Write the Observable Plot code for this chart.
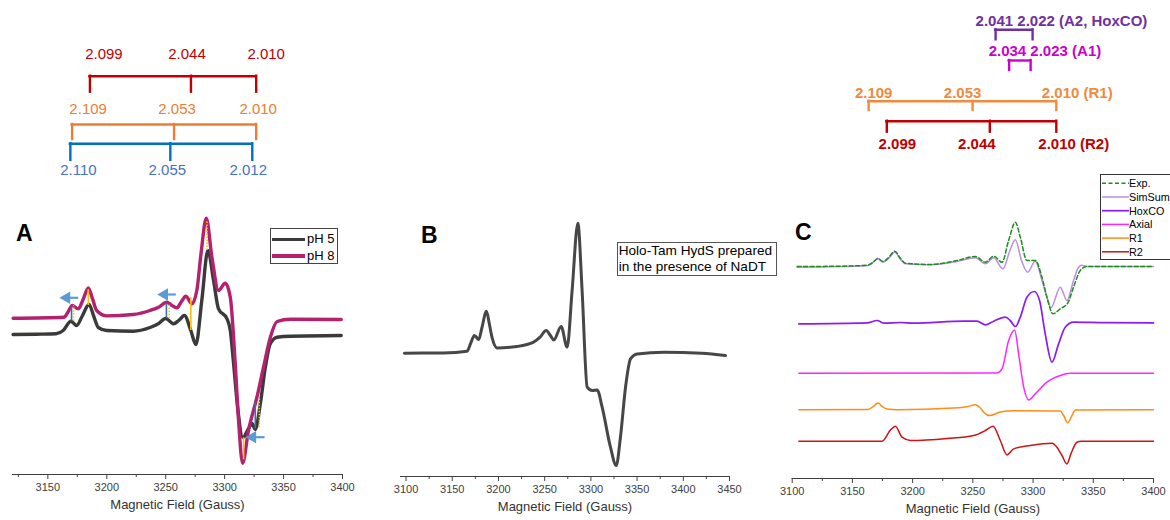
<!DOCTYPE html>
<html><head><meta charset="utf-8">
<script src="https://cdn.jsdelivr.net/npm/d3@7"></script>
<script src="https://cdn.jsdelivr.net/npm/@observablehq/plot@0.6"></script>
<style>
html,body{margin:0;padding:0;background:#fff;}
body{width:1170px;height:520px;overflow:hidden;position:relative;font-family:"Liberation Sans",Arial,Helvetica,sans-serif;}
.letter{position:absolute;font-weight:bold;font-size:23px;line-height:23px;color:#000;}
.box{position:absolute;border:1px solid #444;background:#fff;box-sizing:border-box;}
</style></head><body>
<script>
// ---------------- DATA ----------------
// Panel A: EPR spectra, [field (G), intensity above own baseline]
const pH5 = [[3120.5,0],[3140,0.3],[3157,0.7],[3163,4],[3169.6,13.3],[3174.4,9],[3179,18],[3184.9,30],[3189,18],[3192.8,7],[3200,4],[3222.5,3.3],[3236.7,7],[3244,11],[3250,16],[3256.6,10.7],[3261,14],[3265.9,19],[3271.3,4],[3275.6,-10],[3280.7,35],[3285.8,84],[3290.6,54],[3294.8,25.7],[3302,15.7],[3304.8,4],[3307.6,-29],[3311,-72.7],[3315.5,-103],[3320.3,-94],[3323.2,-89],[3326,-95],[3330.3,-69],[3334.5,-33],[3338.8,-9],[3344.5,-2.7],[3355.8,-1.7],[3398.9,-1]];
const pH8 = [[3120.5,0],[3163.7,1],[3167,6],[3170.7,12.7],[3175.8,9.3],[3180,19],[3184.3,30.3],[3188,19],[3191.4,7.7],[3200,2.3],[3222.5,3.7],[3236.7,7.7],[3244,11],[3250.9,16],[3255,13],[3259.4,10.3],[3263,16],[3267.1,22],[3272.2,14.3],[3276.4,27.7],[3280,65],[3284.4,100],[3289.2,61],[3294.8,27.7],[3300.5,35],[3304.8,21],[3309,-45.7],[3311.8,-102],[3315.2,-145],[3320.3,-112],[3327.4,-79],[3333,-49],[3338.8,-19],[3344.5,-3.3],[3355.8,-1],[3398.9,-1.3]];
const seriesA = ["pH 5", "pH 8"];
const offsetsA = [0, 16.3];
// markers drawn on panel A (same intensity units as the pH 5 trace): field, low, high, kind
const markersA = [
  [3170.1,13.3,27.3,"blue"],[3171.8,13.3,29,"dotted"],[3184.3,29,44.7,"yellow"],
  [3250.6,16.3,31.3,"blue"],[3252.9,15.7,30,"dotted"],[3271.3,4,36.7,"yellow"],
  [3285,84,113.3,"dotted"],[3316.1,-125.3,-103.3,"yellow"],
  [3326,-94.3,-67.7,"blue"],[3329.4,-93.3,-64.3,"dotted"]
];
// arrows: head field, tail field, level
const arrowsA = [[3165.9,3175.8,36.7],[3248.9,3258.6,40],[3323.7,3333.9,-102.7]];

// Panel B
const holoNaDT = [[3098.2,0],[3140,0.3],[3166,2],[3170,10],[3174,17.7],[3178.7,13.7],[3182,25],[3187,42],[3190,30],[3193,16],[3198.5,5.3],[3220,6.7],[3238,11],[3245,16],[3251.6,22.7],[3256,18],[3259.9,13.3],[3267.8,26.7],[3274.3,6],[3279.7,62.7],[3285.9,130],[3290.5,62.7],[3296,-34],[3301.4,-37.3],[3306.8,-36.7],[3312.2,-54],[3321.2,-94],[3327.4,-112.3],[3332,-84],[3337.5,-34],[3342.9,-5.7],[3350,-0.7],[3379,1],[3420,0],[3445.7,-2.3]];

// Panel C
const expC = [[3104.1,0],[3140,0.3],[3162.2,1.3],[3167,4],[3171,7.7],[3175.5,5],[3180,9],[3185.2,15.3],[3190,8],[3194,3.3],[3214.7,2],[3236.9,6],[3252,10],[3260.4,4.3],[3267.3,10.3],[3274.2,4.3],[3279.7,26],[3285.3,44.3],[3289.4,29.3],[3294.9,6],[3301.8,6],[3307.4,-10.7],[3311.5,-30.7],[3316.5,-47.3],[3322.6,-42.3],[3328.7,-36.7],[3333.6,-20.7],[3339.2,-4],[3344.7,0],[3400,0]];
const simSum = [[3104.1,-0.7],[3162.2,0.7],[3167,4],[3171,8.3],[3175.5,4.3],[3180,8],[3185.2,14.3],[3190,7],[3194,2.7],[3214.7,1.7],[3236.9,5],[3252,8.7],[3260.4,2.7],[3267.3,8.7],[3275,-2.3],[3280.8,16],[3285.3,26.7],[3290.4,6],[3295.5,-5.7],[3301.8,5.3],[3307.4,-14],[3311.5,-30.7],[3314.8,-41.3],[3322.6,-20.7],[3328.1,-34],[3333.6,-14],[3337.8,-0.7],[3340.5,1.3],[3345,0],[3400,0]];
const hoxCO = [[3105.5,-0.7],[3162.2,0.3],[3170.5,2.7],[3176,0],[3190,0.7],[3201,0],[3242.4,2],[3253.5,2],[3260.4,-1.7],[3267.3,2],[3277,6],[3281,2.7],[3285.3,-3.3],[3289.4,6],[3294.9,26],[3301,31.7],[3305.4,22.7],[3310.1,-10.7],[3315.7,-39],[3321.2,-20.7],[3326.7,-4],[3333.6,1],[3360,0.5],[3400,0.3]];
const axial = [[3105.5,0],[3270,0.3],[3274.2,4.3],[3279.7,32.7],[3284.7,43.3],[3288,19.3],[3292.2,-14],[3296.3,-26.7],[3301.8,-20.7],[3311.5,-9],[3322.6,-2.3],[3330.9,0],[3400,0]];
const r1 = [[3105.5,0],[3162.2,0.3],[3167,3],[3171.3,6.7],[3175,3],[3178.8,0.7],[3187,0],[3234.1,1.7],[3245,3],[3252.1,5],[3256,2],[3259,-2.3],[3263.7,-5.7],[3272.8,-2.3],[3284,-1],[3322.6,-1.3],[3325.4,-5.7],[3328.7,-13],[3332.3,-5.7],[3335,-0.3],[3400,0]];
const r2 = [[3105.5,0],[3174.7,0],[3181.6,11.3],[3185.7,15],[3191.2,4],[3198.2,0.7],[3228.6,2.7],[3250.7,5.7],[3260.4,10.7],[3266.7,15],[3272.8,0.7],[3278.3,-13.7],[3283.9,-7.7],[3297.7,-4.3],[3315.7,-2],[3319.8,-6],[3324,-14.3],[3328.1,-22.7],[3331.4,-12.7],[3336.4,-1],[3340,0],[3400,0]];
const seriesC = ["Exp.", "SimSum", "HoxCO", "Axial", "R1", "R2"];
const offsetsC = [212, 212, 155.3, 105.3, 68.7, 37.3];

// g-value stick diagrams
const gLeftR2 = [2.099, 2.044, 2.010];
const gLeftR1 = [2.109, 2.053, 2.010];
const gLeftB  = [2.110, 2.055, 2.012];
const gRightA2 = [2.041, 2.022];
const gRightA1 = [2.034, 2.023];
const gRightR1 = [2.109, 2.053, 2.010];
const gRightR2 = [2.099, 2.044, 2.010];
const mwFreqGHz = {left: 9.359, right: 9.338};

// ticks
const majorA = [3150,3200,3250,3300,3350,3400], minorA = [3125,3175,3225,3275,3325,3375];
const majorB = [3100,3150,3200,3250,3300,3350,3400,3450], minorB = [3125,3175,3225,3275,3325,3375,3425];
const majorC = [3100,3150,3200,3250,3300,3350,3400], minorC = [3125,3175,3225,3275,3325,3375];

// ---------------- DRAWING ----------------
const FONT = '"Liberation Sans", Arial, Helvetica, sans-serif';
const K = 714.4773; // B(G) = K * nu(GHz) / g
function put(node, left, top) { node.style.position = "absolute"; node.style.left = left + "px"; node.style.top = top + "px"; document.body.appendChild(node); return node; }
const rows = (arr, off, s) => arr.map(([B, v]) => ({B, v: v + off, s}));

function panel({width, height, mL, mR, mB, xDomain, yDomain, majors, minors, marks}) {
  return Plot.plot({
    width, height, marginLeft: mL, marginRight: mR, marginTop: 0, marginBottom: mB,
    style: {fontFamily: FONT, fontSize: "11px", color: "#404040", background: "transparent", overflow: "visible"},
    x: {domain: xDomain},
    y: {domain: yDomain, axis: null},
    marks: [
      ...marks,
      Plot.ruleY([yDomain[0]], {stroke: "#404040", strokeWidth: 1.2}),
      Plot.axisX(minors, {tickSize: 3, tickFormat: () => "", label: null, color: "#404040"}),
      Plot.axisX(majors, {tickSize: 5, tickPadding: 4, tickFormat: d => String(d), label: null, color: "#404040"}),
      Plot.text(["Magnetic Field (Gauss)"], {frameAnchor: "bottom", dy: 34, fontSize: 13, fill: "#333"})
    ]
  });
}

// Panel A
const colA = ["#3a3a3a", "#b3216f"];
const mkStyle = {blue: {stroke: "#2e75b6"}, yellow: {stroke: "#ffc000"}, dotted: {stroke: "#ffc000", strokeDasharray: "1.5,1.5"}};
const plotA = panel({
  width: 350, height: 330, mL: 12, mR: 8, mB: 46, xDomain: [3120, 3400], yDomain: [-140, 144],
  majors: majorA, minors: minorA,
  marks: [
    Plot.line(rows(pH5, offsetsA[0], seriesA[0]), {x: "B", y: "v", stroke: colA[0], strokeWidth: 3.4, curve: "monotone-x"}),
    Plot.line(rows(pH8, offsetsA[1], seriesA[1]), {x: "B", y: "v", stroke: colA[1], strokeWidth: 3.4, curve: "monotone-x"}),
    ...["blue", "yellow", "dotted"].map(k => Plot.ruleX(markersA.filter(m => m[3] === k), {x: d => d[0], y1: d => d[1], y2: d => d[2], strokeWidth: 1.6, ...mkStyle[k]})),
    Plot.link(arrowsA, {x1: d => d[0], x2: d => d[1], y1: d => d[2], y2: d => d[2], stroke: "#5b9bd5", strokeWidth: 2.2}),
    Plot.dot(arrowsA, {x: d => d[0], y: d => d[2], symbol: "triangle", rotate: -90, r: 4.6, fill: "#5b9bd5", stroke: "none"})
  ]
});
put(plotA, 0, 190);

// Panel B
const plotB = panel({
  width: 390, height: 330, mL: 10, mR: 51, mB: 44, xDomain: [3094, 3450], yDomain: [-123.3, 162.7],
  majors: majorB, minors: minorB,
  marks: [Plot.line(rows(holoNaDT, 0, "B"), {x: "B", y: "v", stroke: "#474747", strokeWidth: 3, curve: "monotone-x"})]
});
put(plotB, 390, 190);

// Panel C
const dataC = [expC, simSum, hoxCO, axial, r1, r2];
const colC = ["#1e8c1e", "#b98fe6", "#8a1cf5", "#ff26ff", "#ff8c1a", "#cc1414"];
const widthC = [1.5, 1.5, 1.7, 1.5, 1.5, 1.5];
const dashC = ["4,2.5", null, null, null, null, null];
const orderC = [5, 4, 3, 2, 1, 0];
const plotC = panel({
  width: 390, height: 360, mL: 11.7, mR: 17, mB: 42, xDomain: [3100, 3400], yDomain: [0, 318],
  majors: majorC, minors: minorC,
  marks: orderC.map(i => Plot.line(rows(dataC[i], offsetsC[i], seriesC[i]), {x: "B", y: "v", stroke: colC[i], strokeWidth: widthC[i], strokeDasharray: dashC[i] ?? undefined, curve: "monotone-x"}))
});
put(plotC, 780, 160);

// g-value stick diagrams
function sticks(gs, nu, o) {
  const f = g => K * nu / g;
  const marks = [
    Plot.ruleY([o.bar], {x1: f(gs[0]), x2: f(gs[gs.length - 1]), stroke: o.line, strokeWidth: 2.4, strokeLinecap: "square"}),
    Plot.ruleX(gs, {x: f, y1: o.bar, y2: o.bar + o.tick, stroke: o.line, strokeWidth: 2.4, strokeLinecap: "square"})
  ];
  o.labels.forEach((lab) => {
    marks.push(Plot.text([gs[lab.at]], {x: f, y: o.labelY, text: () => lab.text, dx: lab.dx, textAnchor: lab.anchor || "middle",
      fill: o.textColor, fontSize: 15, fontWeight: o.bold ? "bold" : "normal"}));
  });
  return marks;
}
function stickPlot(width, height, mL, mR, domain, marks) {
  return Plot.plot({width, height, marginLeft: mL, marginRight: mR, marginTop: 0, marginBottom: 0,
    style: {fontFamily: FONT, background: "transparent", overflow: "visible"},
    x: {domain, axis: null}, y: {domain: [0, height], range: [0, height], axis: null}, marks});
}
const fmt = g => g.toFixed(3);
const nL = mwFreqGHz.left, nR = mwFreqGHz.right;
const leftSticks = stickPlot(350, 190, 12, 8, [3120, 3400], [
  ...sticks(gLeftR2, nL, {bar: 75.7, tick: 16, labelY: 53.5, line: "#c00000", textColor: "#c00000",
    labels: [{at: 0, text: fmt(gLeftR2[0]), dx: 14}, {at: 1, text: fmt(gLeftR2[1]), dx: -4}, {at: 2, text: fmt(gLeftR2[2]), dx: 10}]}),
  ...sticks(gLeftR1, nL, {bar: 124, tick: 15, labelY: 109, line: "#ed7d31", textColor: "#ed7d31",
    labels: [{at: 0, text: fmt(gLeftR1[0]), dx: 16}, {at: 1, text: fmt(gLeftR1[1]), dx: 3}, {at: 2, text: fmt(gLeftR1[2]), dx: 2}]}),
  ...sticks(gLeftB, nL, {bar: 143.3, tick: 16.5, labelY: 170, line: "#0070c0", textColor: "#4472c4",
    labels: [{at: 0, text: fmt(gLeftB[0]), dx: 8}, {at: 1, text: fmt(gLeftB[1]), dx: -3}, {at: 2, text: fmt(gLeftB[2]), dx: -4}]})
]);
put(leftSticks, 0, 0);
const rightSticks = stickPlot(390, 160, 11.7, 17, [3100, 3400], [
  ...sticks(gRightA2, nR, {bar: 29.3, tick: 10, labelY: 21, line: "#7030a0", textColor: "#7030a0", bold: true,
    labels: [{at: 0, text: `${fmt(gRightA2[0])} ${fmt(gRightA2[1])} (A2, HoxCO)`, dx: -20, anchor: "start"}]}),
  ...sticks(gRightA1, nR, {bar: 60, tick: 10, labelY: 51, line: "#cc00cc", textColor: "#cc00cc", bold: true,
    labels: [{at: 0, text: `${fmt(gRightA1[0])} ${fmt(gRightA1[1])} (A1)`, dx: -20.5, anchor: "start"}]}),
  ...sticks(gRightR1, nR, {bar: 100.7, tick: 9.3, labelY: 92.7, line: "#f08a3c", textColor: "#f08a3c", bold: true,
    labels: [{at: 0, text: fmt(gRightR1[0]), dx: 5}, {at: 1, text: fmt(gRightR1[1]), dx: -10}, {at: 2, text: `${fmt(gRightR1[2])} (R1)`, dx: -14.5, anchor: "start"}]}),
  ...sticks(gRightR2, nR, {bar: 120.7, tick: 11, labelY: 143.5, line: "#c00000", textColor: "#c00000", bold: true,
    labels: [{at: 0, text: fmt(gRightR2[0]), dx: 10.5}, {at: 1, text: fmt(gRightR2[1]), dx: -13}, {at: 2, text: `${fmt(gRightR2[2])} (R2)`, dx: -18, anchor: "start"}]})
]);
put(rightSticks, 780, 0);

// panel letters
[["A", 16, 222], ["B", 421, 223.5], ["C", 795, 221]].forEach(([t, x, y]) => {
  const d = document.createElement("div"); d.className = "letter"; d.textContent = t; put(d, x, y);
});

// Legend A
(function () {
  const box = document.createElement("div"); box.className = "box";
  box.style.width = "68px"; box.style.height = "36px";
  put(box, 270, 228);
  seriesA.forEach((s, i) => {
    const ln = document.createElement("div");
    Object.assign(ln.style, {position: "absolute", left: "1px", top: (8.5 + i * 16.7) + "px", width: "33px", height: "3.4px", background: colA[i]});
    box.appendChild(ln);
    const tx = document.createElement("div"); tx.textContent = s;
    Object.assign(tx.style, {position: "absolute", left: "36px", top: (2 + i * 16.7) + "px", fontSize: "13px", lineHeight: "15px", color: "#000", whiteSpace: "nowrap"});
    box.appendChild(tx);
  });
})();

// Text box B
(function () {
  const box = document.createElement("div"); box.className = "box";
  Object.assign(box.style, {width: "160px", height: "34px", fontSize: "13.6px", lineHeight: "16.3px", padding: "0 0 0 1px", color: "#000", whiteSpace: "nowrap", borderColor: "#555"});
  box.innerHTML = "Holo-Tam HydS prepared<br>in the presence of NaDT";
  put(box, 616.7, 241.5);
})();

// Legend C
(function () {
  const box = document.createElement("div"); box.className = "box";
  Object.assign(box.style, {width: "80px", height: "86px", borderColor: "#333", borderRightWidth: "0"});
  put(box, 1100, 174);
  const ns = "http://www.w3.org/2000/svg";
  const svg = document.createElementNS(ns, "svg");
  svg.setAttribute("width", "28"); svg.setAttribute("height", "84");
  Object.assign(svg.style, {position: "absolute", left: "0px", top: "0px"});
  box.appendChild(svg);
  seriesC.forEach((s, i) => {
    const y = 8.3 + i * 13.7;
    const ln = document.createElementNS(ns, "line");
    ln.setAttribute("x1", "1"); ln.setAttribute("x2", "28"); ln.setAttribute("y1", y); ln.setAttribute("y2", y);
    ln.setAttribute("stroke", colC[i]); ln.setAttribute("stroke-width", widthC[i]);
    if (dashC[i]) ln.setAttribute("stroke-dasharray", dashC[i]);
    svg.appendChild(ln);
    const tx = document.createElement("div"); tx.textContent = s;
    Object.assign(tx.style, {position: "absolute", left: "28px", top: (y - 7) + "px", fontSize: "10.8px", lineHeight: "14px", color: "#000", whiteSpace: "nowrap"});
    box.appendChild(tx);
  });
})();
</script>
</body></html>
